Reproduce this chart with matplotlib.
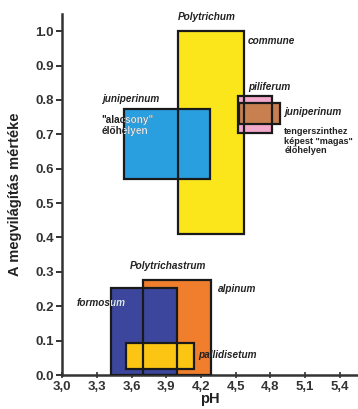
import matplotlib
matplotlib.use('Agg')
import matplotlib.pyplot as plt
from matplotlib.patches import Rectangle
from matplotlib.transforms import Bbox, TransformedBbox

plt.rcParams['font.family'] = 'Liberation Sans'
plt.rcParams['font.weight'] = 'bold'
plt.rcParams['axes.labelweight'] = 'bold'

# species ranges: pH (min, max) and light (min, max)
names = ['juniperinum_alacsony', 'commune', 'piliferum', 'juniperinum_magas',
         'alpinum', 'formosum', 'pallidisetum']
ph_min = [3.53, 4.00, 4.52, 4.53, 3.70, 3.42, 3.55]
ph_max = [4.28, 4.57, 4.81, 4.88, 4.29, 3.99, 4.14]
light_min = [0.57, 0.41, 0.705, 0.73, 0.0, 0.0, 0.017]
light_max = [0.773, 1.0, 0.813, 0.79, 0.277, 0.253, 0.094]
colors = ['#2a9fe0', '#fbe61c', '#f2a9cc', '#c98050',
          '#f07e2c', '#3b469c', '#fcc514']
# fill drawing order (later on top)
order = [1, 0, 2, 3, 4, 5, 6]

xticks = [3.0, 3.3, 3.6, 3.9, 4.2, 4.5, 4.8, 5.1, 5.4]
xticklabels = ['3,0', '3,3', '3,6', '3,9', '4,2', '4,5', '4,8', '5,1', '5,4']
yticks = [0.0, 0.1, 0.2, 0.3, 0.4, 0.5, 0.6, 0.7, 0.8, 0.9, 1.0]
yticklabels = ['0.0', '0.1', '0.2', '0.3', '0.4', '0.5', '0.6', '0.7', '0.8', '0.9', '1.0']

fig = plt.figure(figsize=(3.58, 4.09), dpi=100)
ax = fig.add_axes([0.1743, 0.0831, 0.823, 0.8826])
ax.set_xlim(3.0, 5.55)
ax.set_ylim(0, 1.05)

for i in order:
    ax.add_patch(Rectangle((ph_min[i], light_min[i]), ph_max[i] - ph_min[i],
                           light_max[i] - light_min[i], facecolor=colors[i],
                           edgecolor='none', zorder=2))
# outlines on top of all fills
for i in order:
    ax.add_patch(Rectangle((ph_min[i], light_min[i]), ph_max[i] - ph_min[i],
                           light_max[i] - light_min[i], facecolor='none',
                           edgecolor='#1a1a1a', lw=1.6, zorder=3))

fs = 7.2
def label(x, y, s, italic=True, clip=None, size=fs):
    st = 'italic' if italic else 'normal'
    ax.text(x, y, s, fontsize=size, style=st, ha='left', va='center',
            color='#222222', zorder=4, clip_on=False, linespacing=1.1)
    if clip is not None:
        # light text where the label runs over a filled box
        i = names.index(clip)
        box = TransformedBbox(Bbox([[ph_min[i], light_min[i]],
                                    [ph_max[i], light_max[i]]]), ax.transData)
        t = ax.text(x, y, s, fontsize=size, style=st, ha='left', va='center',
                    color='#dcecf7', zorder=5, linespacing=1.1)
        t.set_clip_box(box)
        t.set_clip_on(True)

ax.text(4.25, 1.04, 'Polytrichum', fontsize=fs, style='italic', ha='center',
        va='center', color='#222222', clip_on=False)
label(4.60, 0.971, 'commune')
label(4.604, 0.837, 'piliferum')
label(4.92, 0.764, 'juniperinum')
label(4.92, 0.68, 'tengerszinthez\nképest "magas"\nélőhelyen', italic=False,
      size=6.6)
label(3.34, 0.804, 'juniperinum')
label(3.34, 0.725, '"alacsony"\nélőhelyen', italic=False,
      clip='juniperinum_alacsony')
label(3.585, 0.318, 'Polytrichastrum')
label(4.35, 0.251, 'alpinum')
label(3.12, 0.21, 'formosum', clip='formosum')
label(4.177, 0.058, 'pallidisetum')

ax.spines['top'].set_visible(False)
ax.spines['right'].set_visible(False)
ax.spines['left'].set_linewidth(1.8)
ax.spines['bottom'].set_linewidth(1.8)
ax.spines['left'].set_color('#333333')
ax.spines['bottom'].set_color('#333333')

ax.set_xticks(xticks)
ax.set_xticklabels(xticklabels)
ax.set_yticks(yticks)
ax.set_yticklabels(yticklabels)
ax.tick_params(axis='y', direction='out', length=4, width=1.4, labelsize=9.5,
               colors='#333333', pad=2)
ax.tick_params(axis='x', direction='inout', length=5, width=1.2, labelsize=9.5,
               colors='#333333', pad=2)

ax.set_xlabel('pH', fontsize=10.5, labelpad=-1, color='#222222')
ax.set_ylabel('A megvilágítás mértéke', fontsize=10.5, labelpad=10, color='#222222')

fig.savefig('out.png', dpi=100)
